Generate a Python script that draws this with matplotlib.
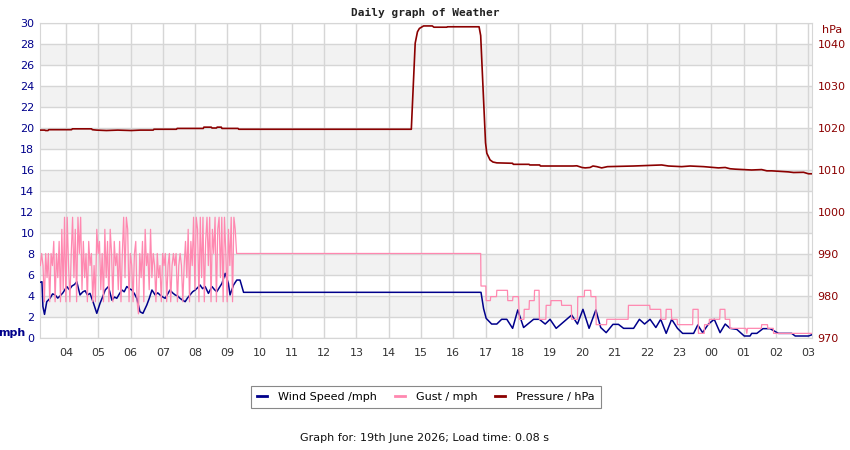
import matplotlib
matplotlib.use("Agg")
import matplotlib.pyplot as plt
from matplotlib.lines import Line2D

# ---------------- data ----------------
# hours (3.2 = 03:12 ... 27 = 03:00 next day)
hour_ticks = list(range(4, 28))
hour_labels = ["04", "05", "06", "07", "08", "09", "10", "11", "12", "13", "14", "15",
               "16", "17", "18", "19", "20", "21", "22", "23", "00", "01", "02", "03"]

wind_t = [3.19, 3.25, 3.28, 3.33, 3.40, 3.50, 3.58, 3.66, 3.74, 3.81, 3.90, 4.02, 4.10, 4.18,
          4.26, 4.33, 4.43, 4.52, 4.59, 4.66, 4.74, 4.85, 4.95, 5.05, 5.13, 5.21, 5.31, 5.42,
          5.50, 5.57, 5.65, 5.73, 5.80, 5.88, 5.96, 6.04, 6.12, 6.19, 6.29, 6.38, 6.50, 6.58,
          6.66, 6.76, 6.84, 6.91, 7.00, 7.07, 7.15, 7.22, 7.30, 7.38, 7.46, 7.53, 7.61, 7.69,
          7.76, 7.84, 7.92, 8.00, 8.08, 8.15, 8.23, 8.31, 8.41, 8.52, 8.60, 8.67, 8.75, 8.83,
          8.93, 9.03, 9.08, 9.19, 9.29, 9.39, 9.50,
          16.86, 16.94, 17.02, 17.19, 17.35, 17.50, 17.66, 17.84, 18.00, 18.18, 18.49, 18.67,
          18.85, 19.00, 19.19, 19.67, 19.85, 20.02, 20.21, 20.42, 20.57, 20.74, 20.95, 21.12,
          21.28, 21.59, 21.77, 21.93, 22.10, 22.28, 22.43, 22.60, 22.77, 22.95, 23.11, 23.45,
          23.58, 23.73, 23.91, 24.09, 24.27, 24.43, 24.58, 24.79, 25.02, 25.20, 25.25, 25.41,
          25.60, 25.82, 26.08, 26.49, 26.60, 27.01, 27.11]
wind_v = [5.30, 5.36, 3.00, 2.25, 3.46, 3.78, 4.20, 4.10, 3.80, 4.00, 4.30, 4.90, 4.60, 4.95,
          5.10, 5.36, 4.10, 4.40, 4.50, 4.10, 4.25, 3.30, 2.35, 3.30, 3.90, 4.57, 4.90, 3.60,
          3.90, 3.78, 4.20, 4.57, 4.40, 4.90, 4.70, 4.57, 4.20, 3.78, 2.50, 2.35, 3.14, 3.80,
          4.57, 4.10, 4.30, 4.10, 3.90, 3.78, 4.20, 4.57, 4.30, 4.10, 4.00, 3.78, 3.60, 3.46,
          3.80, 4.10, 4.40, 4.57, 4.80, 5.05, 4.70, 4.90, 4.25, 4.90, 4.60, 4.41, 4.80, 5.20,
          6.16, 5.20, 4.10, 5.05, 5.52, 5.52, 4.35,
          4.35, 2.80, 1.87, 1.33, 1.33, 1.78, 1.78, 0.92, 2.67, 1.00, 1.78, 1.78,
          1.33, 1.78, 0.92, 2.19, 1.33, 2.73, 0.92, 2.67, 1.00, 0.51, 1.30, 1.30,
          0.92, 0.92, 1.78, 1.33, 1.78, 1.00, 1.78, 0.44, 1.78, 0.92, 0.44, 0.44,
          1.24, 0.51, 1.33, 1.78, 0.51, 1.33, 0.92, 0.82, 0.19, 0.19, 0.44, 0.44,
          0.89, 0.89, 0.44, 0.44, 0.19, 0.19, 0.30]

# gust during the gusty morning, one reading every 2.5 minutes from 03:12
gust_start = 3.20
gust_step = 1 / 24
gust_morning = [6.9, 8.05, 6.9, 3.45, 8.05, 5.75, 8.05, 3.45, 8.05, 6.9, 9.2, 3.45,
                8.05, 5.75, 9.2, 3.45, 10.35, 4.6, 11.5, 3.45, 11.5, 6.9, 3.45, 8.05,
                11.5, 5.75, 10.35, 3.45, 11.5, 8.05, 11.5, 4.6, 9.2, 5.75, 8.05, 3.45,
                9.2, 6.9, 8.05, 3.45, 6.9, 3.45, 10.35, 8.05, 9.2, 4.6, 8.05, 3.45,
                10.35, 5.75, 9.2, 3.45, 10.35, 8.05, 3.45, 9.2, 6.9, 8.05, 4.6, 9.2,
                3.45, 8.05, 11.5, 5.75, 11.5, 10.35, 3.45, 8.05, 6.9, 3.45, 8.05, 9.2,
                3.45, 2.3, 8.05, 5.75, 9.2, 3.45, 10.35, 6.9, 8.05, 4.6, 10.35, 5.75,
                8.05, 6.9, 3.45, 8.05, 5.75, 6.9, 3.45, 8.05, 6.9, 8.05, 3.45, 6.9,
                8.05, 3.45, 6.9, 8.05, 6.9, 8.05, 3.45, 6.9, 8.05, 6.9, 3.45, 6.9,
                9.2, 5.75, 10.35, 3.45, 9.2, 6.9, 11.5, 4.6, 11.5, 10.35, 3.45, 11.5,
                5.75, 11.5, 3.45, 9.2, 11.5, 6.9, 11.5, 3.45, 10.35, 8.05, 11.5, 3.45,
                10.35, 11.5, 5.75, 11.5, 3.45, 11.5, 8.05, 3.45, 10.35, 6.9, 11.5, 3.45,
                11.5, 10.35, 8.05]

gust_t = [16.85, 16.86, 17.01, 17.02, 17.15, 17.16, 17.34, 17.35, 17.68, 17.69, 17.84, 17.85,
          18.02, 18.05, 18.19, 18.20, 18.35, 18.36, 18.51, 18.52, 18.66, 18.67, 18.87, 18.88,
          19.02, 19.03, 19.35, 19.36, 19.66, 19.67, 19.85, 19.86, 20.06, 20.07, 20.26, 20.27,
          20.42, 20.43, 20.75, 20.76, 21.42, 21.43, 22.09, 22.10, 22.43, 22.44, 22.59, 22.60,
          22.76, 22.77, 22.94, 22.95, 23.42, 23.43, 23.59, 23.60, 23.78, 23.79, 23.93, 23.94,
          24.26, 24.27, 24.42, 24.43, 24.57, 24.58, 25.07, 25.10, 25.12, 25.55, 25.56, 25.74,
          25.75, 25.92, 25.93, 27.11]
gust_v = [8.05, 4.95, 4.95, 3.56, 3.56, 3.94, 3.94, 4.54, 4.54, 3.56, 3.56, 3.94,
          3.94, 1.78, 1.78, 2.73, 2.73, 3.56, 3.56, 4.54, 4.54, 1.78, 1.78, 3.11,
          3.11, 3.56, 3.56, 3.11, 3.11, 1.78, 1.78, 3.94, 3.94, 4.54, 4.54, 3.94,
          3.94, 1.27, 1.27, 1.78, 1.78, 3.11, 3.11, 2.73, 2.73, 1.78, 1.78, 2.73,
          2.73, 1.78, 1.78, 1.27, 1.27, 2.73, 2.73, 0.44, 0.44, 1.27, 1.27, 1.78,
          1.78, 2.73, 2.73, 1.78, 1.78, 0.92, 0.92, 0.44, 0.92, 0.92, 1.27, 1.27,
          0.92, 0.92, 0.44, 0.44]

press_t = [3.19, 3.34, 3.36, 3.44, 3.46, 4.17, 4.19, 4.79, 4.81, 4.94, 5.25, 5.60, 6.02, 6.30,
           6.70, 6.72, 7.42, 7.44, 8.25, 8.27, 8.50, 8.52, 8.66, 8.68, 8.81, 8.83, 9.33, 9.35,
           14.70, 14.76, 14.82, 14.89, 14.95, 15.08, 15.35, 15.40, 15.80, 15.82, 16.80, 16.85,
           16.92, 17.00, 17.04, 17.14, 17.23, 17.35, 17.84, 17.86, 18.35, 18.37, 18.68, 18.70,
           19.71, 19.83, 19.99, 20.09, 20.24, 20.33, 20.45, 20.60, 20.78, 21.59, 22.46, 22.67,
           23.08, 23.34, 23.76, 24.22, 24.43, 24.58, 24.74, 25.25, 25.56, 25.72, 25.87, 26.39,
           26.55, 26.86, 27.01, 27.12]
press_v = [1019.5, 1019.5, 1019.4, 1019.4, 1019.6, 1019.6, 1019.8, 1019.8, 1019.6, 1019.5,
           1019.4, 1019.5, 1019.4, 1019.5, 1019.5, 1019.7, 1019.7, 1019.9, 1019.9, 1020.2,
           1020.2, 1020.0, 1020.0, 1020.2, 1020.2, 1019.9, 1019.9, 1019.7,
           1019.7, 1030.0, 1040.2, 1042.9, 1043.7, 1044.3, 1044.3, 1044.0, 1044.0, 1044.1,
           1044.1, 1042.0, 1030.0, 1016.5, 1014.0, 1012.4, 1011.9, 1011.7, 1011.6, 1011.35,
           1011.35, 1011.2, 1011.2, 1010.95, 1010.95, 1011.0, 1010.6, 1010.5, 1010.6, 1010.95,
           1010.8, 1010.5, 1010.8, 1010.95, 1011.2, 1010.95, 1010.8, 1010.95, 1010.8, 1010.5,
           1010.6, 1010.3, 1010.2, 1010.0, 1010.1, 1009.8, 1009.8, 1009.55, 1009.4, 1009.45,
           1009.1, 1009.1]

# full gust series: gusty morning readings followed by the later readings
gust_all_t = [gust_start + i * gust_step for i in range(len(gust_morning))] + gust_t
gust_all_v = gust_morning + gust_v

# ---------------- figure ----------------
navy = "#00008b"
pink = "#ff88b0"
dred = "#8b0000"
grid_c = "#d6d6d6"

fig = plt.figure(figsize=(8.5, 4.5), dpi=100)
ax = fig.add_axes([40 / 850, 1 - 338 / 450, 772 / 850, 315 / 450])
ax.set_xlim(3.19, 27.12)
ax.set_ylim(0, 30)

for b in range(2, 30, 4):
    ax.axhspan(b, b + 2, color="#f2f2f2", zorder=0, lw=0)
ax.set_yticks(range(0, 31, 2))
ax.set_xticks(hour_ticks)
ax.set_xticklabels(hour_labels)
ax.grid(True, color=grid_c, lw=1, zorder=1)
ax.set_axisbelow(True)
for s in ax.spines.values():
    s.set_color(grid_c)
ax.tick_params(axis="y", length=0, pad=4, labelsize=8, labelcolor=navy)
ax.tick_params(axis="x", length=0, pad=7, labelsize=8, labelcolor="#333333")

ax.plot(wind_t, wind_v, color=navy, lw=1.1, zorder=3)
ax.plot(gust_all_t, gust_all_v, color=pink, lw=0.9, zorder=4)

ax2 = ax.twinx()
ax2.set_ylim(970, 1045)
ax2.set_yticks(range(970, 1041, 10))
ax2.tick_params(axis="y", length=0, pad=4, labelsize=8, labelcolor=dred)
for s in ax2.spines.values():
    s.set_visible(False)
ax2.plot(press_t, press_v, color=dred, lw=1.2, zorder=5)

fig.text(425 / 850, 1 - 13 / 450, "Daily graph of Weather", ha="center", va="center",
         fontsize=8, fontweight="bold", family="DejaVu Sans Mono", color="#222222")
fig.text(12 / 850, 1 - 333 / 450, "mph", ha="center", va="center", fontsize=8,
         fontweight="bold", color=navy)
fig.text(832 / 850, 1 - 30 / 450, "hPa", ha="center", va="center", fontsize=8, color=dred)

handles = [Line2D([], [], color=navy, lw=2), Line2D([], [], color=pink, lw=2),
           Line2D([], [], color=dred, lw=2)]
leg = fig.legend(handles, ["Wind Speed /mph", "Gust / mph", "Pressure / hPa"],
                 loc="center", bbox_to_anchor=(426 / 850, 1 - 397 / 450), ncol=3,
                 fontsize=8, handlelength=0.9, columnspacing=1.6, handletextpad=1.0,
                 fancybox=False, edgecolor="#888888", framealpha=1, borderpad=0.5)
leg.get_frame().set_linewidth(0.8)

fig.text(424 / 850, 1 - 438 / 450, "Graph for: 19th June 2026; Load time: 0.08 s",
         ha="center", va="center", fontsize=8, color="#111111")

fig.savefig("out.png", dpi=100)
